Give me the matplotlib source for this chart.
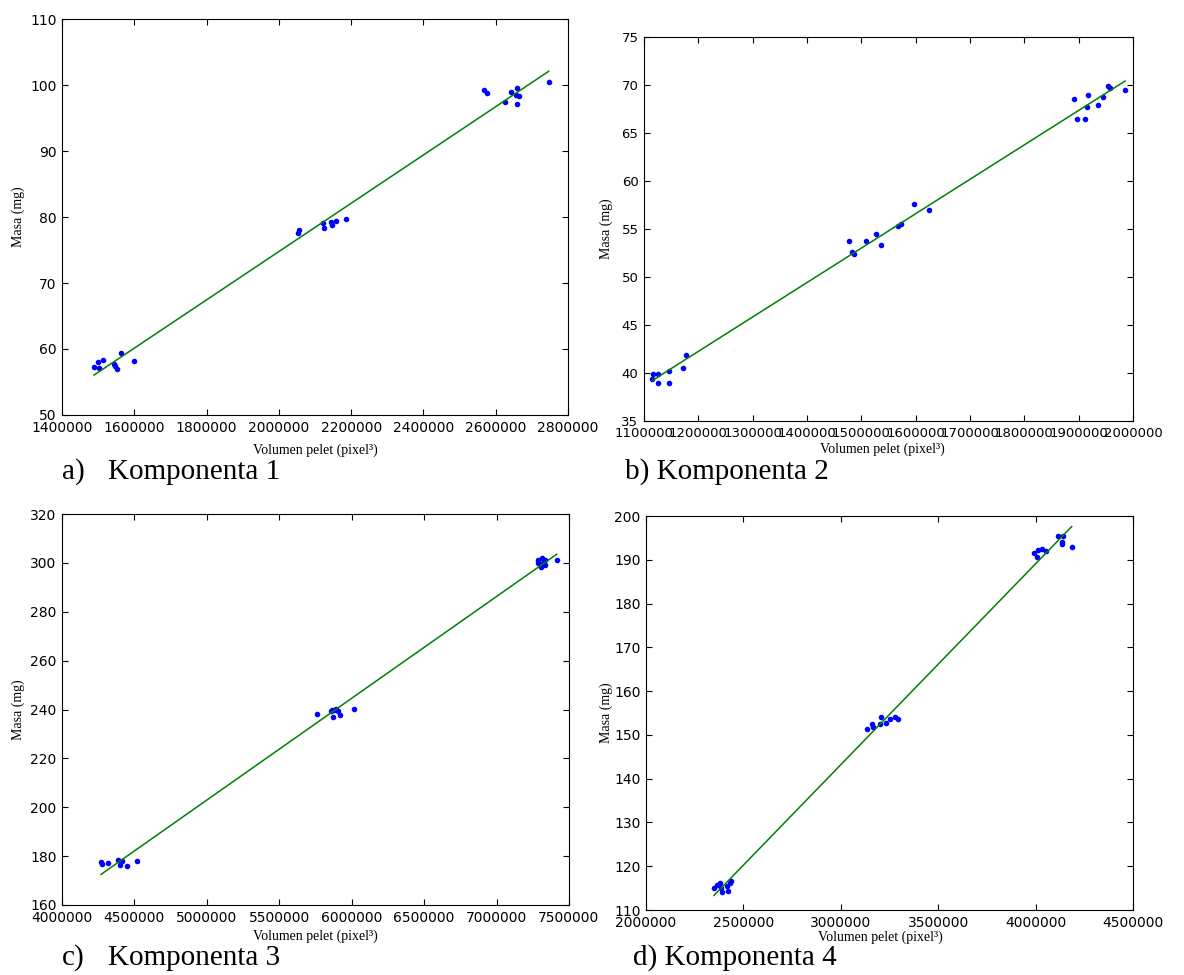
import numpy as np
import matplotlib.pyplot as plt

# Volumen pelet (pixel^3) vs masa (mg) za 4 komponente
vol_k1 = [1488500, 1500400, 1502400, 1514300, 1544700, 1545800, 1553000, 1562400, 1599200,
          2053000, 2055800, 2123000, 2125800, 2144300, 2147900, 2157300, 2185800,
          2567700, 2576000, 2625000, 2643300, 2658200, 2659800, 2656300, 2665400, 2746700]
masa_k1 = [57.3, 58.0, 57.1, 58.3, 57.7, 57.4, 57.0, 59.4, 58.2,
           77.6, 78.1, 79.05, 78.3, 79.2, 78.8, 79.4, 79.7,
           99.2, 98.8, 97.4, 99.0, 97.1, 99.6, 98.5, 98.4, 100.5]

vol_k2 = [1117100, 1126300, 1115300, 1126300, 1146600, 1146600, 1172400, 1177300,
          1476800, 1483400, 1487100, 1508600, 1527600, 1536200, 1567500, 1573000, 1597000, 1624000,
          1891400, 1897000, 1911700, 1915400, 1917200, 1935600, 1944800, 1954000, 1957700, 1985300]
masa_k2 = [39.94, 39.94, 39.36, 38.94, 40.22, 38.94, 40.57, 41.89,
           53.80, 52.65, 52.41, 53.80, 54.50, 53.35, 55.32, 55.47, 57.56, 57.01,
           68.52, 66.44, 66.44, 67.69, 68.98, 67.96, 68.76, 69.88, 69.67, 69.46]

vol_k3 = [4269200, 4278200, 4315500, 4388700, 4400400, 4416300, 4446600, 4515700,
          5758200, 5854900, 5866000, 5879700, 5870800, 5889400, 5903200, 5919100, 6017800,
          7288000, 7311500, 7288000, 7306700, 7322500, 7334300, 7334300, 7415000]
masa_k3 = [177.5, 176.8, 177.1, 178.4, 176.4, 178.0, 176.1, 178.2,
           238.1, 239.3, 240.0, 240.0, 236.8, 240.1, 239.4, 237.9, 240.1,
           301.2, 301.9, 299.8, 298.5, 299.8, 301.2, 299.2, 301.2]

vol_k4 = [2349100, 2362900, 2379900, 2383500, 2391700, 2414300, 2422500, 2431200, 2436300,
          3136000, 3158600, 3166800, 3201200, 3206400, 3232000, 3252600, 3278200, 3295200,
          3991800, 4008700, 4013900, 4031300, 4053400, 4116600, 4142200, 4137100, 4134000, 4185300]
masa_k4 = [114.96, 115.71, 116.24, 114.96, 114.18, 115.48, 114.41, 116.24, 116.69,
           151.34, 152.42, 151.87, 152.49, 154.02, 152.65, 153.63, 154.02, 153.63,
           191.61, 190.56, 192.23, 192.39, 192.0, 195.43, 195.43, 194.13, 193.53, 192.85]

plt.rcParams['xtick.direction'] = 'in'
plt.rcParams['ytick.direction'] = 'in'
plt.rcParams['xtick.top'] = True
plt.rcParams['ytick.right'] = True
plt.rcParams['xtick.major.size'] = 4
plt.rcParams['ytick.major.size'] = 4

serif = ['Liberation Serif', 'DejaVu Serif']
W, H = 1184, 975

fig = plt.figure(figsize=(W / 100, H / 100), dpi=100)


def px_axes(l, t, r, b):
    return fig.add_axes([l / W, 1 - b / H, (r - l) / W, (b - t) / H])


def panel(box, x, y, xlim, ylim, xstep, ystep, xlab_pos, ylab_pos, fs=10):
    ax = px_axes(*box)
    x = np.array(x)
    y = np.array(y)
    ax.plot(x, y, '.', color='b', markersize=6)
    k, n = np.polyfit(x, y, 1)
    xs = np.array([x.min(), x.max()])
    ax.plot(xs, k * xs + n, color='g', lw=1.1)
    ax.set_xlim(*xlim)
    ax.set_ylim(*ylim)
    ax.set_xticks(np.arange(xlim[0], xlim[1] + 1, xstep))
    ax.set_yticks(np.arange(ylim[0], ylim[1] + 0.1, ystep))
    ax.ticklabel_format(style='plain', useOffset=False)
    ax.tick_params(labelsize=fs, pad=4)
    fig.text(xlab_pos[0] / W, 1 - xlab_pos[1] / H, 'Volumen pelet (pixel³)',
             family=serif, fontsize=10, ha='center', va='center')
    fig.text(ylab_pos[0] / W, 1 - ylab_pos[1] / H, 'Masa (mg)',
             family=serif, fontsize=10, ha='center', va='center', rotation=90)
    return ax


panel((62, 19, 568, 415), vol_k1, masa_k1, (1400000, 2800000), (50, 110), 200000, 10,
      (315, 450), (18, 217))
panel((644, 37, 1133, 421), vol_k2, masa_k2, (1100000, 2000000), (35, 75), 100000, 5,
      (882, 449), (606, 229), fs=9.5)
panel((62, 514, 569, 905), vol_k3, masa_k3, (4000000, 7500000), (160, 320), 500000, 20,
      (315, 936), (18, 710))
panel((646, 516, 1133, 910), vol_k4, masa_k4, (2000000, 4500000), (110, 200), 500000, 10,
      (880, 937), (606, 713))

# natpisi ispod grafikona
cap = dict(family=serif, fontsize=21, va='center', ha='left')
fig.text(62 / W, 1 - 472 / H, 'a)', **cap)
fig.text(108 / W, 1 - 472 / H, 'Komponenta 1', **cap)
fig.text(625 / W, 1 - 472 / H, 'b) Komponenta 2', **cap)
fig.text(62 / W, 1 - 958 / H, 'c)', **cap)
fig.text(108 / W, 1 - 958 / H, 'Komponenta 3', **cap)
fig.text(633 / W, 1 - 958 / H, 'd) Komponenta 4', **cap)

fig.savefig('out.png', dpi=100)
